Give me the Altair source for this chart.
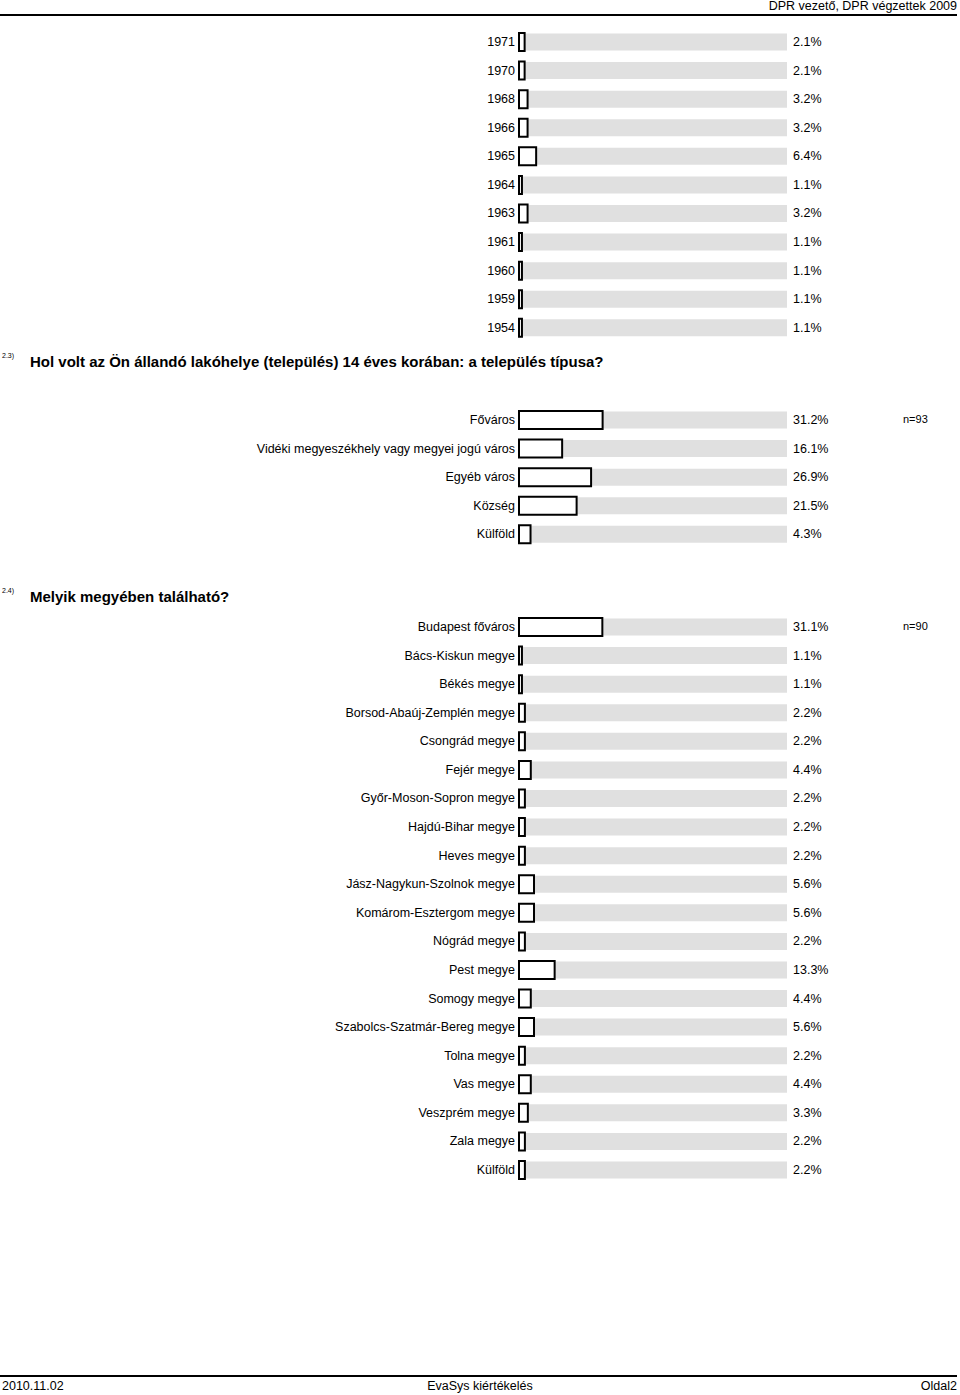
import altair as alt
import pandas as pd

# ---- data ----
years = ["1971", "1970", "1968", "1966", "1965", "1964", "1963", "1961", "1960", "1959", "1954"]
year_vals = [2.1, 2.1, 3.2, 3.2, 6.4, 1.1, 3.2, 1.1, 1.1, 1.1, 1.1]

types = ["Főváros", "Vidéki megyeszékhely vagy megyei jogú város", "Egyéb város", "Község", "Külföld"]
type_vals = [31.2, 16.1, 26.9, 21.5, 4.3]

counties = ["Budapest főváros", "Bács-Kiskun megye", "Békés megye", "Borsod-Abaúj-Zemplén megye",
            "Csongrád megye", "Fejér megye", "Győr-Moson-Sopron megye", "Hajdú-Bihar megye",
            "Heves megye", "Jász-Nagykun-Szolnok megye", "Komárom-Esztergom megye", "Nógrád megye",
            "Pest megye", "Somogy megye", "Szabolcs-Szatmár-Bereg megye", "Tolna megye",
            "Vas megye", "Veszprém megye", "Zala megye", "Külföld"]
county_vals = [31.1, 1.1, 1.1, 2.2, 2.2, 4.4, 2.2, 2.2, 2.2, 5.6, 5.6, 2.2, 13.3, 4.4, 5.6,
               2.2, 4.4, 3.3, 2.2, 2.2]

titles = ["Hol volt az Ön állandó lakóhelye (település) 14 éves korában: a település típusa?",
          "Melyik megyében található?"]
title_nums = ["2.3)", "2.4)"]
n_labels = ["n=93", "n=90"]

header_text = "DPR vezető, DPR végzettek 2009"
footer_left = "2010.11.02"
footer_mid = "EvaSys kiértékelés"
footer_right = "Oldal2"

# ---- layout ----
W, H = 960, 1395
STEP = 28.58
sections = [(years, year_vals, 42), (types, type_vals, 420), (counties, county_vals, 627)]
rows = []
for si, (labs, vals, start) in enumerate(sections):
    for i, (l, v) in enumerate(zip(labs, vals)):
        c = start + i * STEP
        rows.append({"label": l, "value": v, "pct": f"{v:.1f}%", "yc": c,
                     "g0": c - 8.5, "g1": c + 8.5, "b0": c - 9, "b1": c + 9,
                     "zero": 0, "full": 100})
df = pd.DataFrame(rows)

title_df = pd.DataFrame({"num": title_nums, "title": titles, "yc": [362, 597],
                         "ynum": [356, 591]})
n_df = pd.DataFrame({"n": n_labels, "yc": [420, 627]})

FONT = "Liberation Sans"
xs = alt.Scale(domain=[0, 100], range=[519, 787])
ys = alt.Scale(domain=[0, H], range=[0, H])

base = alt.Chart(df)

gray = base.mark_rect(color="#e0e0e0").encode(
    x=alt.X("zero:Q", scale=xs, axis=None),
    x2="full:Q",
    y=alt.Y("g0:Q", scale=ys, axis=None),
    y2="g1:Q",
)
box = base.mark_rect(fill="white", stroke="black", strokeWidth=2).encode(
    x=alt.X("zero:Q", scale=xs, axis=None),
    x2="value:Q",
    y=alt.Y("b0:Q", scale=ys, axis=None),
    y2="b1:Q",
)
labels = base.mark_text(align="right", baseline="middle", font=FONT, fontSize=12.5,
                        color="#000", dx=-4).encode(
    x=alt.X("zero:Q", scale=xs, axis=None),
    y=alt.Y("yc:Q", scale=ys, axis=None),
    text="label:N",
)
vals_t = base.mark_text(align="left", baseline="middle", font=FONT, fontSize=12.5,
                        color="#000").encode(
    x=alt.value(793),
    y=alt.Y("yc:Q", scale=ys, axis=None),
    text="pct:N",
)
tchart = alt.Chart(title_df)
tnum = tchart.mark_text(align="left", baseline="middle", font=FONT, fontSize=7).encode(
    x=alt.value(2), y=alt.Y("ynum:Q", scale=ys, axis=None), text="num:N")
ttl = tchart.mark_text(align="left", baseline="middle", font=FONT, fontSize=15,
                       fontWeight="bold").encode(
    x=alt.value(30), y=alt.Y("yc:Q", scale=ys, axis=None), text="title:N")
nt = alt.Chart(n_df).mark_text(align="left", baseline="middle", font=FONT, fontSize=11).encode(
    x=alt.value(903), y=alt.Y("yc:Q", scale=ys, axis=None), text="n:N")

deco = alt.Chart(pd.DataFrame({"a": [0]}))
hdr = deco.mark_text(align="right", baseline="middle", font=FONT, fontSize=12.5).encode(
    x=alt.value(957), y=alt.value(6), text=alt.value(header_text))
hline = deco.mark_rule(color="black", strokeWidth=2).encode(
    x=alt.value(0), x2=alt.value(957), y=alt.value(15))
fline = deco.mark_rule(color="black", strokeWidth=2).encode(
    x=alt.value(0), x2=alt.value(957), y=alt.value(1376))
fl = deco.mark_text(align="left", baseline="middle", font=FONT, fontSize=12.5).encode(
    x=alt.value(2), y=alt.value(1386), text=alt.value(footer_left))
fm = deco.mark_text(align="center", baseline="middle", font=FONT, fontSize=12.5).encode(
    x=alt.value(480), y=alt.value(1386), text=alt.value(footer_mid))
fr = deco.mark_text(align="right", baseline="middle", font=FONT, fontSize=12.5).encode(
    x=alt.value(957), y=alt.value(1386), text=alt.value(footer_right))

chart = alt.layer(gray, box, labels, vals_t, tnum, ttl, nt, hdr, hline, fline, fl, fm, fr).properties(
    width=W, height=H, padding=0, autosize=alt.AutoSizeParams(type="none"), background="white"
).configure_view(stroke=None)

chart.save("out.html", embed_options={"renderer": "svg", "actions": False})
